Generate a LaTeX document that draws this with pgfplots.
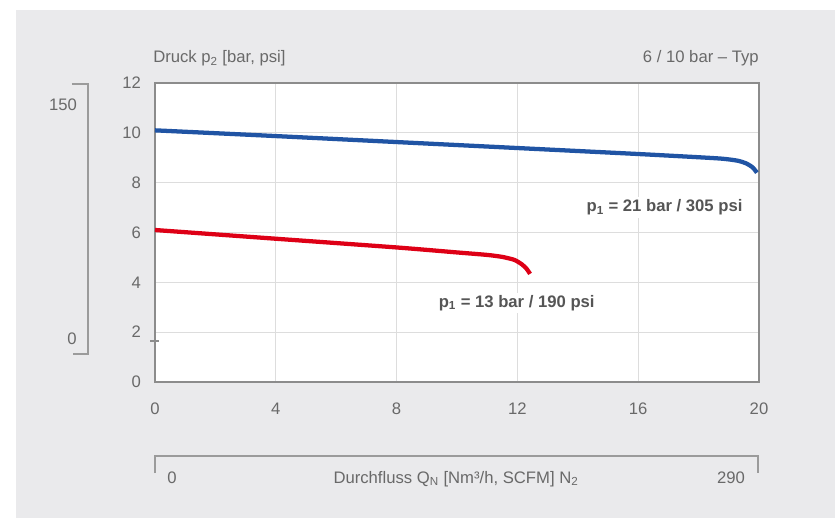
\documentclass[border=0pt]{standalone}
\usepackage{fontspec}
\setmainfont{Liberation Sans}
\usepackage{pgfplots}
\pgfplotsset{compat=1.18}
\definecolor{bg}{RGB}{234,234,236}
\definecolor{txt}{RGB}{105,105,105}
\definecolor{brk}{RGB}{155,155,155}
\definecolor{axl}{RGB}{140,140,140}
\definecolor{grd}{RGB}{221,221,221}
\definecolor{cblue}{RGB}{32,84,164}
\definecolor{cred}{RGB}{222,0,22}
\definecolor{lbl}{RGB}{85,85,85}
\newcommand{\fs}{\fontsize{12.5}{14}\selectfont}
\begin{document}
\begin{tikzpicture}
\begin{scope}[shift={(-116.25pt,286.5pt)}, x=0.75pt, y=-0.75pt]
 \fill[white] (0,0) rectangle (835,518);
 \fill[bg] (16,10) rectangle (835,518);
\end{scope}
\begin{axis}[at={(0,0)}, anchor=south west, scale only axis,
 width=453pt, height=224.25pt,
 xmin=0, xmax=20, ymin=0, ymax=12,
 xtick={0,4,8,12,16,20}, ytick={0,2,4,6,8,10,12},
 grid=major, major grid style={draw=grd, line width=0.8pt},
 axis line style={draw=axl, line width=1.1pt},
 axis background/.style={fill=white},
 tick style={draw=none},
 ticklabel style={font=\fs, text=txt},
 xticklabel style={yshift=-12pt},
 yticklabel style={xshift=-7pt},
 /pgf/number format/assume math mode=true,
 clip=false]
\addplot[cblue, line width=3.2pt, smooth, tension=0.4] coordinates {
 (0,10.1) (4,9.87) (8,9.63) (12,9.39) (16,9.15) (18,9.02) (18.8,8.96)
 (19.3,8.88) (19.6,8.76) (19.8,8.6) (19.93,8.4)};
\addplot[cred, line width=3.2pt, smooth, tension=0.4] coordinates {
 (0,6.1) (4,5.75) (8,5.4) (10,5.2) (11,5.1) (11.5,5.02) (11.9,4.9)
 (12.15,4.72) (12.3,4.55) (12.42,4.34)};
\node[anchor=east, fill=white, inner sep=2pt, text=lbl, font=\fs\bfseries]
 at (axis cs:19.55,7.0) {p\textsubscript{1} = 21 bar / 305 psi};
\node[anchor=west, fill=white, inner sep=2pt, text=lbl, font=\fs\bfseries]
 at (axis cs:9.3,3.17) {p\textsubscript{1} = 13 bar / 190 psi};
\end{axis}
\begin{scope}[shift={(-116.25pt,286.5pt)}, x=0.75pt, y=-0.75pt]
 \node[anchor=base west, inner sep=0pt, text=txt, font=\fs] at (153,63) {Druck p\textsubscript{2} [bar, psi]};
 \node[anchor=base east, inner sep=0pt, text=txt, font=\fs] at (759,63) {6 / 10 bar -- Typ};
 \draw[brk, line width=1.5pt] (72,84) -- (88,84) -- (88,354) -- (73,354);
 \node[anchor=base, inner sep=0pt, text=txt, font=\fs] at (63,111) {150};
 \node[anchor=base, inner sep=0pt, text=txt, font=\fs] at (72,344) {0};
 \draw[axl, line width=1pt] (150,341) -- (159,341);
 \draw[brk, line width=1.5pt] (155,473) -- (155,456) -- (758,456) -- (758,473);
 \node[anchor=base, inner sep=0pt, text=txt, font=\fs] at (172,483) {0};
 \node[anchor=base, inner sep=0pt, text=txt, font=\fs] at (456,483) {Durchfluss Q\textsubscript{N} [Nm³/h, SCFM] N\textsubscript{2}};
 \node[anchor=base, inner sep=0pt, text=txt, font=\fs] at (731,483) {290};
\end{scope}
\end{tikzpicture}
\end{document}
